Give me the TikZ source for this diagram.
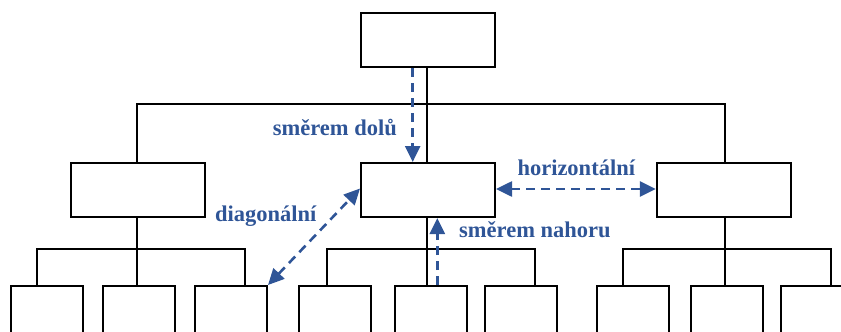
\documentclass[tikz,border=0pt]{standalone}
\usepackage{fontspec}
\setmainfont{Liberation Serif}
\usetikzlibrary{arrows.meta}
\definecolor{arrowblue}{RGB}{47,85,151}
\tikzset{
  box/.style={draw=black, line width=2pt, fill=white, minimum width=134pt, minimum height=54pt, inner sep=0pt},
  leaf/.style={draw=black, line width=2pt, minimum width=72pt, minimum height=80pt, inner sep=0pt, anchor=north},
  tree/.style={draw=black, line width=2pt},
  flow/.style={draw=arrowblue, line width=2.6pt, dash pattern=on 9pt off 6pt},
  tipE/.style={-{Triangle[length=16pt,width=15pt]}},
  tipB/.style={{Triangle[length=16pt,width=15pt]}-{Triangle[length=16pt,width=15pt]}},
  lbl/.style={text=arrowblue, font=\fontsize{22.5}{27}\selectfont\bfseries, inner sep=0pt, anchor=base west}
}
\begin{document}
\begin{tikzpicture}[x=1pt,y=-1pt]
\useasboundingbox (0,0) rectangle (841,332);
\clip (0,0) rectangle (841,332);
% boxes
\node[box] (T) at (428,40) {};
\node[box] (L) at (137.7,190) {};
\node[box] (C) at (428,190) {};
\node[box] (R) at (723.8,190) {};
% leaves
\node[leaf] (b1) at (46.7,285) {};
\node[leaf] (b2) at (138.8,285) {};
\node[leaf] (b3) at (231,285) {};
\node[leaf] (b4) at (335,285) {};
\node[leaf] (b5) at (431,285) {};
\node[leaf] (b6) at (521,285) {};
\node[leaf] (b7) at (633,285) {};
\node[leaf] (b8) at (727,285) {};
\node[leaf] (b9) at (817,285) {};
% tree coordinates
\coordinate (hL) at (136.7,104.3);
\coordinate (hR) at (725,104.3);
\coordinate (hC) at (426.7,104.3);
\coordinate (l1) at (36.7,248.7);
\coordinate (l2) at (136.7,248.7);
\coordinate (l3) at (245,248.7);
\coordinate (c1) at (326.7,248.7);
\coordinate (c2) at (426.7,248.7);
\coordinate (c3) at (534.7,248.7);
\coordinate (r1) at (622.7,248.7);
\coordinate (r2) at (725,248.7);
\coordinate (r3) at (831,248.7);
% tree lines
\draw[tree] (hC |- T.south) -- (hC |- C.north);
\draw[tree] (hL |- L.north) -- (hL) -- (hR) -- (hR |- R.north);
\draw[tree] (l2 |- L.south) -- (l2);
\draw[tree] (l1 |- b1.north) -- (l1) -- (l3) -- (l3 |- b3.north);
\draw[tree] (l2) -- (l2 |- b2.north);
\draw[tree] (c2 |- C.south) -- (c2);
\draw[tree] (c1 |- b4.north) -- (c1) -- (c3) -- (c3 |- b6.north);
\draw[tree] (c2) -- (c2 |- b5.north);
\draw[tree] (r2 |- R.south) -- (r2);
\draw[tree] (r1 |- b7.north) -- (r1) -- (r3) -- (r3 |- b9.north);
\draw[tree] (r2) -- (r2 |- b8.north);
% flows
\draw[flow,tipE] ([xshift=-15.3pt]T.south) -- ([xshift=-15.3pt]C.north);
\draw[flow,tipE] ([xshift=6.3pt]b5.north) -- ([xshift=9.3pt]C.south);
\draw[flow,tipB] ([yshift=1pt]C.east) -- ([yshift=1pt]R.west);
\draw[flow,tipB] (b3.north east) -- ([yshift=1.5pt]C.west);
% labels
\node[lbl] (t1) at (272.7,135) {směrem dolů};
\node[lbl] (t2) at (517.3,175) {horizontální};
\node[lbl] (t3) at (215,221) {diagonální};
\node[lbl] (t4) at (459,237.3) {směrem nahoru};
\end{tikzpicture}
\end{document}
